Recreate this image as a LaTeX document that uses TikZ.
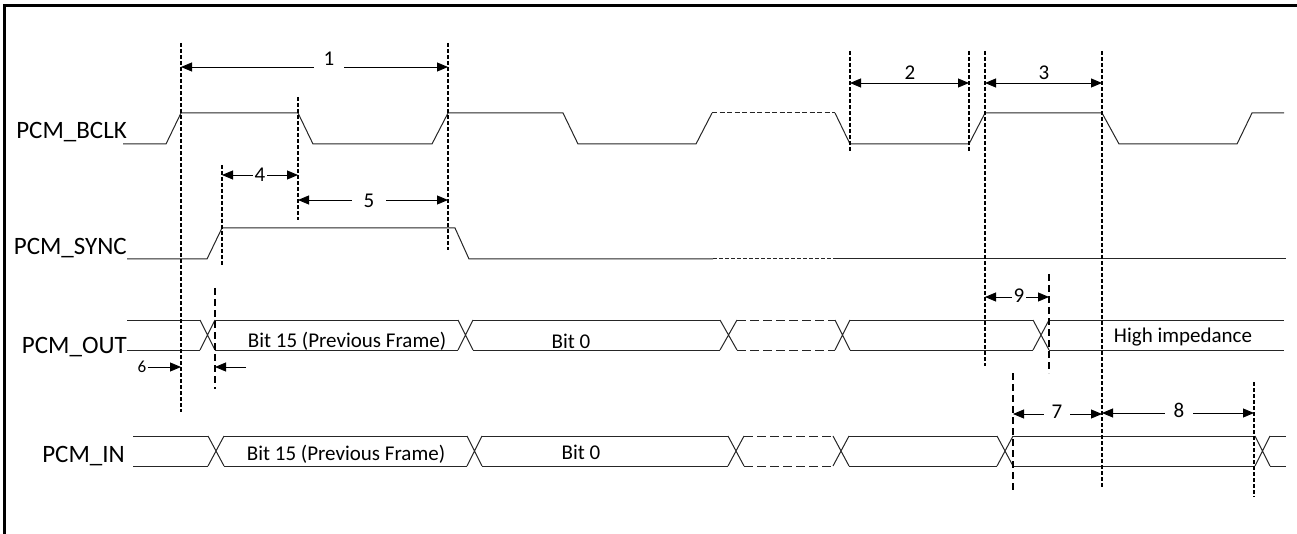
\documentclass[tikz,border=0pt]{standalone}
\usepackage{fontspec}
\setmainfont{Carlito}
\usetikzlibrary{arrows.meta}
\tikzset{
    sig/.style={line width=1pt, black!85},
    sigdash/.style={sig, dash pattern=on 5pt off 2.5pt},
    busdash/.style={sig, dash pattern=on 9pt off 4pt},
    marker/.style={line width=1.2pt, dash pattern=on 4pt off 2pt},
    longmarker/.style={line width=1.2pt, dash pattern=on 7pt off 4pt},
    dimarrow/.style={line width=0.9pt, {Triangle[length=11pt,width=9pt]}-{Triangle[length=11pt,width=9pt]}},
    onearrow/.style={line width=0.9pt, -{Triangle[length=11pt,width=9pt]}},
    dimlabel/.style={fill=white, inner ysep=3pt, inner xsep=#1, font=\fontsize{21}{25}\selectfont},
    dimlabel/.default=3pt,
    siglabel/.style={anchor=base east, inner sep=0pt, font=\fontsize{25}{30}\selectfont},
    bitlabel/.style={anchor=base, inner sep=0pt, font=\fontsize{21}{25}\selectfont},
}
\begin{document}
\begin{tikzpicture}[x=1pt,y=-1pt]
    \useasboundingbox (0,0) rectangle (1297,534);
    %% Frame
    \draw[line width=3pt] (4.5,534) -- (4.5,5.5) -- (1297,5.5);
    %% Signal names
    \node[siglabel] (bclk) at (127,139) {PCM\_BCLK};
    \node[siglabel] (sync) at (127,255) {PCM\_SYNC};
    \node[siglabel] (out) at (127,353) {PCM\_OUT};
    \node[siglabel] (in) at (125,462) {PCM\_IN};
    %% PCM_BCLK
    \draw[sig] (123,144) -- (166,144) -- (181,113) -- (298,113) -- (313,144) -- (432,144)
        -- (448,113) -- (563,113) -- (578,144) -- (696,144) -- (712,113);
    \draw[sigdash] (712,113) -- (835,113);
    \draw[sig] (835,113) -- (850,144) -- (969,144) -- (985,113) -- (1102,113) -- (1119,144)
        -- (1237,144) -- (1252,113) -- (1284,113);
    %% PCM_SYNC
    \draw[sig] (127,259) -- (207,259) -- (222,228) -- (455,228) -- (469,259) -- (713,259);
    \draw[sig,dash pattern=on 4pt off 2pt] (713,259) -- (837,259);
    \draw[sig] (837,259) -- (1286,259);
    %% PCM_OUT
    \foreach \a/\b in {127/200,215/458,473/720,850/1033,1049/1284} {
        \draw[sig] (\a,320) -- (\b,320) (\a,350) -- (\b,350);
    }
    \foreach \a/\b in {200/215,458/473,720/737,835/850,1033/1049} {
        \draw[sig] (\a,320) -- (\b,350) (\a,350) -- (\b,320);
    }
    \draw[busdash] (737,320) -- (835,320) (737,350) -- (835,350);
    %% PCM_IN
    \foreach \a/\b in {133/208,224/467,482/728,849/997,1013/1255,1270/1286} {
        \draw[sig] (\a,436) -- (\b,436) (\a,466) -- (\b,466);
    }
    \foreach \a/\b in {208/224,467/482,728/744,833/849,997/1013,1255/1270} {
        \draw[sig] (\a,436) -- (\b,466) (\a,466) -- (\b,436);
    }
    \draw[busdash] (744,436) -- (833,436) (744,466) -- (833,466);
    %% Data
    \node[bitlabel] (out15) at (347,347) {Bit 15 (Previous Frame)};
    \node[bitlabel] (out0) at (571,348) {Bit 0};
    \node[bitlabel] (outz) at (1183,342) {High impedance};
    \node[bitlabel] (in15) at (346,460) {Bit 15 (Previous Frame)};
    \node[bitlabel] (in0) at (581,459) {Bit 0};
    %% Markers
    \foreach \x/\t/\b in {181/43/412,298/97/220,448/43/250,222/165/266,850/51/151,
            969/51/151,985/51/366,1102/51/488,1254/382/497} {
        \draw[marker] (\x,\t) -- (\x,\b);
    }
    \foreach \x/\t/\b in {215/288/389,1049/274/373,1013/373/490} {
        \draw[longmarker] (\x,\t) -- (\x,\b);
    }
    %% Timing parameters
    \draw[dimarrow] (181,67) -- (448,67);
    \node[dimlabel=10pt,anchor=base] (t1) at (329,66) {1};
    \draw[dimarrow] (850,83) -- (969,83);
    \node[dimlabel=15pt,anchor=base] (t2) at (910,80) {2};
    \draw[dimarrow] (985,83) -- (1102,83);
    \node[dimlabel=15pt,anchor=base] (t3) at (1044,80) {3};
    \draw[dimarrow] (222,175) -- (298,175);
    \node[dimlabel=2pt] (t4) at (260,175) {4};
    \draw[dimarrow] (298,200) -- (448,200);
    \node[dimlabel=12pt] (t5) at (369,201) {5};
    \node[font=\fontsize{17}{20}\selectfont, inner sep=1pt] (t6) at (142,367) {6};
    \draw[onearrow] (t6.east) -- (181,367);
    \draw[onearrow] (246,367) -- (215,367);
    \draw[dimarrow] (1013,414) -- (1102,414);
    \node[dimlabel=8pt] (t7) at (1057,412) {7};
    \draw[dimarrow] (1102,413) -- (1254,413);
    \node[dimlabel=9pt] (t8) at (1179,410) {8};
    \draw[dimarrow] (985,297) -- (1049,297);
    \node[dimlabel=2pt] (t9) at (1019,296) {9};
\end{tikzpicture}
\end{document}
